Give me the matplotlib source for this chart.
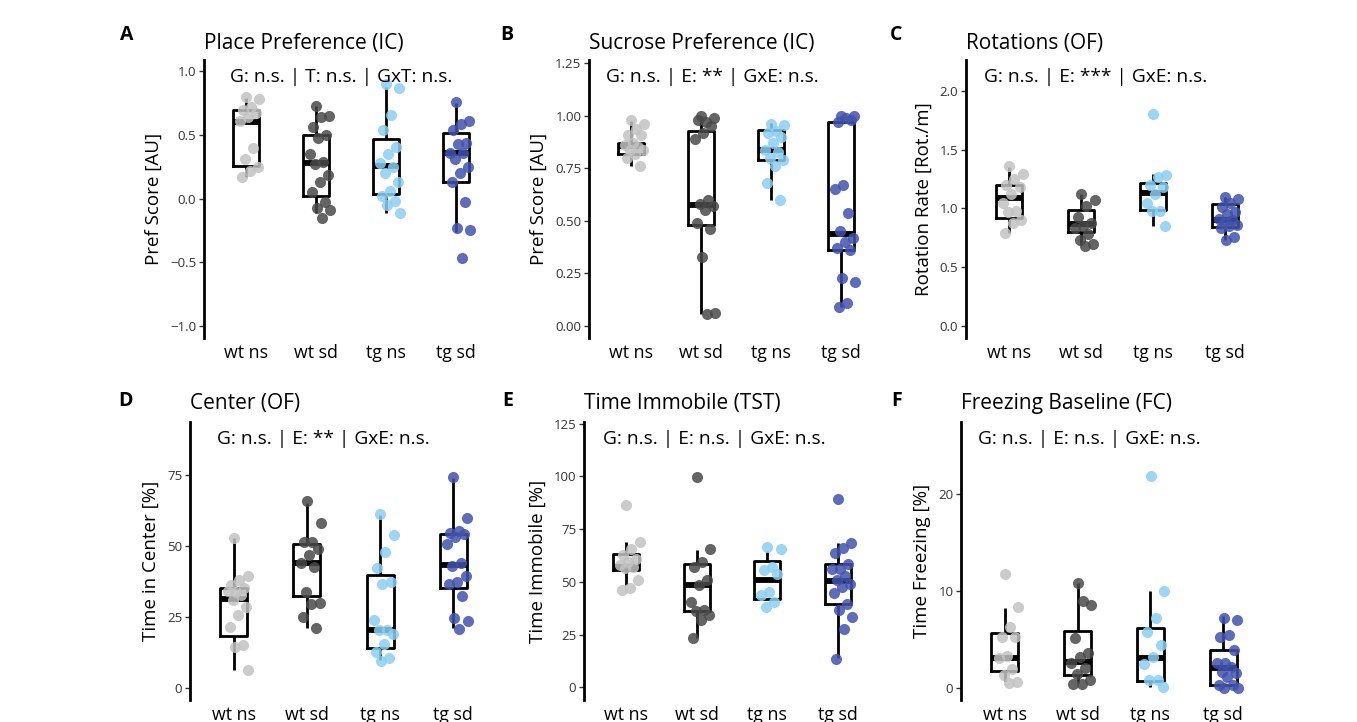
import matplotlib
matplotlib.use("Agg")
import matplotlib.pyplot as plt
import numpy as np

plt.rcParams['font.family'] = ['Open Sans', 'DejaVu Sans']

groups = ["wt ns", "wt sd", "tg ns", "tg sd"]
colors = ["#C2C2C2", "#4A4A4A", "#8CCFF4", "#4253AE"]

# ---------------- Panel A ----------------
a_title = "Place Preference (IC)"
a_stats = "G: n.s. | T: n.s. | GxT: n.s."
a_ylabel = "Pref Score [AU]"
a_wt_ns = [0.80, 0.78, 0.72, 0.70, 0.67, 0.64, 0.61, 0.40, 0.31, 0.25, 0.22, 0.17]
a_wt_sd = [0.73, 0.65, 0.64, 0.56, 0.50, 0.48, 0.35, 0.29, 0.27, 0.19, 0.13, 0.05, -0.03, -0.07, -0.09, -0.15]
a_tg_ns = [0.90, 0.87, 0.66, 0.54, 0.41, 0.35, 0.28, 0.25, 0.20, 0.13, 0.06, 0.02, -0.02, -0.05, -0.11]
a_tg_sd = [0.76, 0.61, 0.59, 0.54, 0.44, 0.43, 0.36, 0.36, 0.31, 0.25, 0.20, 0.13, -0.03, -0.23, -0.25, -0.47]
a_q1 = [0.26, 0.025, 0.04, 0.13]
a_med = [0.60, 0.28, 0.26, 0.36]
a_q3 = [0.70, 0.50, 0.47, 0.52]
a_lo = [0.17, -0.11, -0.11, -0.26]
a_hi = [0.79, 0.73, 0.88, 0.75]
a_yticks = [-1.0, -0.5, 0.0, 0.5, 1.0]

# ---------------- Panel B ----------------
b_title = "Sucrose Preference (IC)"
b_stats = "G: n.s. | E: ** | GxE: n.s."
b_ylabel = "Pref Score [AU]"
b_wt_ns = [0.98, 0.96, 0.94, 0.91, 0.91, 0.87, 0.86, 0.85, 0.84, 0.84, 0.82, 0.80, 0.76]
b_wt_sd = [1.00, 0.99, 0.97, 0.98, 0.95, 0.92, 0.89, 0.60, 0.58, 0.57, 0.55, 0.49, 0.46, 0.33, 0.06, 0.055]
b_tg_ns = [0.96, 0.955, 0.93, 0.92, 0.90, 0.87, 0.84, 0.83, 0.80, 0.79, 0.76, 0.68, 0.60]
b_tg_sd = [1.00, 1.00, 0.99, 0.97, 0.98, 0.67, 0.65, 0.54, 0.45, 0.42, 0.40, 0.37, 0.36, 0.23, 0.21, 0.11, 0.09]
b_q1 = [0.817, 0.48, 0.79, 0.36]
b_med = [0.855, 0.575, 0.84, 0.44]
b_q3 = [0.87, 0.93, 0.935, 0.97]
b_lo = [0.76, 0.055, 0.60, 0.09]
b_hi = [0.975, 1.00, 0.965, 1.00]
b_yticks = [0.00, 0.25, 0.50, 0.75, 1.00, 1.25]

# ---------------- Panel C ----------------
c_title = "Rotations (OF)"
c_stats = "G: n.s. | E: *** | GxE: n.s."
c_ylabel = "Rotation Rate [Rot./m]"
c_wt_ns = [1.36, 1.29, 1.25, 1.20, 1.18, 1.12, 1.05, 0.98, 0.97, 0.90, 0.88, 0.79]
c_wt_sd = [1.12, 1.07, 1.02, 0.93, 0.88, 0.85, 0.83, 0.78, 0.73, 0.70, 0.68]
c_tg_ns = [1.80, 1.28, 1.27, 1.20, 1.18, 1.12, 1.05, 0.98, 0.98, 0.85]
c_tg_sd = [1.10, 1.08, 1.05, 1.01, 0.97, 0.95, 0.91, 0.90, 0.88, 0.86, 0.85, 0.83, 0.76, 0.73]
c_q1 = [0.92, 0.80, 0.99, 0.845]
c_med = [1.09, 0.87, 1.13, 0.90]
c_q3 = [1.20, 0.99, 1.22, 1.04]
c_lo = [0.79, 0.69, 0.85, 0.73]
c_hi = [1.35, 1.12, 1.29, 1.10]
c_yticks = [0.0, 0.5, 1.0, 1.5, 2.0]

# ---------------- Panel D ----------------
d_title = "Center (OF)"
d_stats = "G: n.s. | E: ** | GxE: n.s."
d_ylabel = "Time in Center [%]"
d_wt_ns = [53.0, 39.4, 38.0, 36.3, 35.1, 33.9, 34.3, 32.7, 30.9, 28.6, 25.6, 21.5, 15.0, 14.6, 6.4]
d_wt_sd = [66.0, 58.1, 51.3, 51.6, 48.9, 46.9, 43.9, 42.8, 33.9, 30.0, 29.5, 25.0, 21.3]
d_tg_ns = [61.4, 54.0, 48.1, 42.2, 37.4, 36.6, 24.1, 20.3, 20.6, 19.1, 15.6, 12.6, 10.6, 9.4]
d_tg_sd = [74.4, 59.9, 55.5, 54.8, 54.3, 53.1, 50.8, 44.2, 43.0, 39.4, 37.4, 36.6, 32.4, 24.8, 23.6, 20.9]
d_q1 = [18.2, 32.4, 14.2, 35.1]
d_med = [31.3, 44.2, 20.6, 43.3]
d_q3 = [35.4, 50.7, 39.8, 54.3]
d_lo = [6.4, 21.3, 9.7, 21.3]
d_hi = [53.0, 65.4, 61.1, 74.1]
d_yticks = [0, 25, 50, 75]

# ---------------- Panel E ----------------
e_title = "Time Immobile (TST)"
e_stats = "G: n.s. | E: n.s. | GxE: n.s."
e_ylabel = "Time Immobile [%]"
e_wt_ns = [86.3, 69.0, 65.8, 62.7, 61.0, 59.5, 57.9, 57.1, 56.8, 50.8, 46.9, 46.1]
e_wt_sd = [99.7, 65.8, 59.5, 57.1, 50.8, 48.5, 40.6, 36.6, 36.3, 34.2, 31.9, 23.2]
e_tg_ns = [66.6, 65.8, 57.1, 55.6, 53.7, 45.3, 43.7, 40.6, 38.2]
e_tg_sd = [89.5, 68.5, 66.3, 63.8, 58.7, 56.3, 55.9, 52.7, 50.8, 49.2, 47.7, 44.5, 39.5, 36.6, 33.5, 27.5, 13.3]
e_q1 = [55.6, 36.3, 42.1, 39.5]
e_med = [57.1, 48.5, 50.8, 50.3]
e_q3 = [63.1, 58.4, 60.0, 58.7]
e_lo = [48.5, 23.2, 42.1, 13.7]
e_hi = [69.0, 65.0, 64.7, 68.5]
e_yticks = [0, 25, 50, 75, 100, 125]

# ---------------- Panel F ----------------
f_title = "Freezing Baseline (FC)"
f_stats = "G: n.s. | E: n.s. | GxE: n.s."
f_ylabel = "Time Freezing [%]"
f_wt_ns = [11.7, 8.3, 6.3, 5.3, 5.25, 3.25, 3.05, 1.97, 1.38, 0.6, 0.5]
f_wt_sd = [10.85, 8.5, 9.0, 5.1, 3.6, 3.2, 2.6, 2.1, 1.4, 0.8, 0.4, 0.4]
f_tg_ns = [21.8, 10.0, 7.25, 5.8, 4.4, 3.2, 2.5, 0.83, 0.86, 0.07]
f_tg_sd = [7.25, 7.0, 5.5, 5.3, 3.9, 2.55, 2.55, 2.15, 1.6, 1.5, 1.1, 0.35, 0.35, 0.0, 0.0]
f_q1 = [1.73, 1.35, 0.76, 0.35]
f_med = [3.1, 2.7, 3.1, 2.1]
f_q3 = [5.66, 5.87, 6.2, 3.95]
f_lo = [0.76, 0.48, 0.14, 0.0]
f_hi = [8.26, 10.85, 10.0, 7.4]
f_yticks = [0, 10, 20]

panels = [
    dict(letter="A", title=a_title, stats=a_stats, ylabel=a_ylabel,
         pts=[a_wt_ns, a_wt_sd, a_tg_ns, a_tg_sd], q1=a_q1, med=a_med, q3=a_q3, lo=a_lo, hi=a_hi,
         yticks=a_yticks, fmt="{:.1f}", ylim=(-1.095, 1.09),
         box=(204, 498, 60, 338), sx=0.465, lx=120),
    dict(letter="B", title=b_title, stats=b_stats, ylabel=b_ylabel,
         pts=[b_wt_ns, b_wt_sd, b_tg_ns, b_tg_sd], q1=b_q1, med=b_med, q3=b_q3, lo=b_lo, hi=b_hi,
         yticks=b_yticks, fmt="{:.2f}", ylim=(-0.057, 1.266),
         box=(589, 883, 60, 338), sx=0.42, lx=500),
    dict(letter="C", title=c_title, stats=c_stats, ylabel=c_ylabel,
         pts=[c_wt_ns, c_wt_sd, c_tg_ns, c_tg_sd], q1=c_q1, med=c_med, q3=c_q3, lo=c_lo, hi=c_hi,
         yticks=c_yticks, fmt="{:.1f}", ylim=(-0.1, 2.26),
         box=(966, 1268, 60, 338), sx=0.43, lx=890),
    dict(letter="D", title=d_title, stats=d_stats, ylabel=d_ylabel,
         pts=[d_wt_ns, d_wt_sd, d_tg_ns, d_tg_sd], q1=d_q1, med=d_med, q3=d_q3, lo=d_lo, hi=d_hi,
         yticks=d_yticks, fmt="{:d}", ylim=(-4.25, 93.8),
         box=(190, 497, 422, 700), sx=0.435, lx=118),
    dict(letter="E", title=e_title, stats=e_stats, ylabel=e_ylabel,
         pts=[e_wt_ns, e_wt_sd, e_tg_ns, e_tg_sd], q1=e_q1, med=e_med, q3=e_q3, lo=e_lo, hi=e_hi,
         yticks=e_yticks, fmt="{:d}", ylim=(-6.0, 125.8),
         box=(584, 880, 422, 700), sx=0.44, lx=502),
    dict(letter="F", title=f_title, stats=f_stats, ylabel=f_ylabel,
         pts=[f_wt_ns, f_wt_sd, f_tg_ns, f_tg_sd], q1=f_q1, med=f_med, q3=f_q3, lo=f_lo, hi=f_hi,
         yticks=f_yticks, fmt="{:d}", ylim=(-1.24, 27.4),
         box=(961, 1267, 422, 700), sx=0.42, lx=891),
]

W, H = 1357, 722
fig = plt.figure(figsize=(W / 100, H / 100), dpi=100)
fig.patch.set_facecolor("white")

positions = np.arange(1, len(groups) + 1)

for p in panels:
    l, r, t, b = p["box"]
    ax = fig.add_axes([l / W, (H - b) / H, (r - l) / W, (b - t) / H])
    stats = []
    for i in range(len(groups)):
        stats.append(dict(med=p["med"][i], q1=p["q1"][i], q3=p["q3"][i],
                          whislo=p["lo"][i], whishi=p["hi"][i], fliers=[]))
    ax.bxp(stats, positions=positions, widths=0.37, showfliers=False, showcaps=False,
           boxprops=dict(linewidth=2.0, color="black"),
           whiskerprops=dict(linewidth=2.0, color="black", solid_capstyle="butt"),
           medianprops=dict(linewidth=4.2, color="black", solid_capstyle="butt"),
           manage_ticks=False, zorder=1)
    for i, vals in enumerate(p["pts"]):
        n = len(vals)
        frac = (np.arange(n) * 0.6180339887 + 0.31) % 1.0
        xs = positions[i] + 0.06 + 0.15 * (2 * frac - 1)
        ax.scatter(xs, vals, s=64, color=colors[i], alpha=0.85, linewidths=0, zorder=3)

    ax.set_xlim(0.4, 4.6)
    ax.set_ylim(*p["ylim"])
    ax.set_xticks(positions)
    ax.set_xticklabels(groups, fontsize=12.8, color="black")
    ax.tick_params(axis="x", length=0, pad=4)
    ax.set_yticks(p["yticks"])
    ax.set_yticklabels([p["fmt"].format(v).replace("-", "\u2212") for v in p["yticks"]],
                       fontsize=9.5, color="#333333")
    ax.tick_params(axis="y", length=3.5, width=1.0, color="#333333", pad=2)
    for s in ["top", "right", "bottom"]:
        ax.spines[s].set_visible(False)
    ax.spines["left"].set_linewidth(2.0)
    ax.set_ylabel(p["ylabel"], fontsize=13.5, labelpad=5)
    ax.set_facecolor("none")
    ax.text(p["sx"], 0.94, p["stats"], transform=ax.transAxes, ha="center", va="center",
            fontsize=13.8)
    ty = 43 if t < 200 else 404
    ly = 35 if t < 200 else 401
    fig.text(l / W, 1 - ty / H, p["title"], ha="left", va="center", fontsize=15)
    fig.text(p["lx"] / W, 1 - ly / H, p["letter"], ha="left", va="center",
             fontsize=14, fontweight="bold")

fig.savefig("out.png", dpi=100, facecolor="white")
